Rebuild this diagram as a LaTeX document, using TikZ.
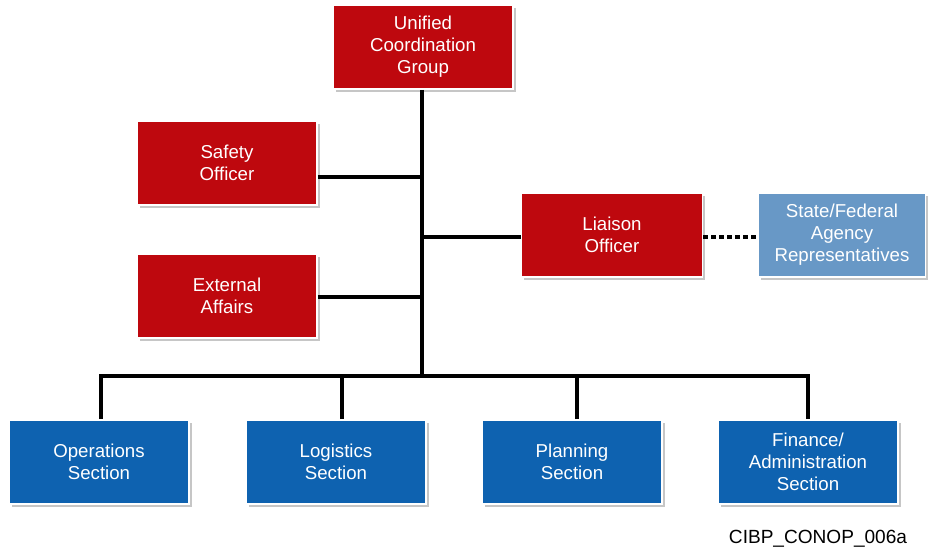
\documentclass[tikz,border=0pt]{standalone}
\usepackage{fontspec}
\setmainfont{Liberation Sans}
\usetikzlibrary{positioning,shadows}
\definecolor{cmdred}{RGB}{190,8,14}
\definecolor{secblue}{RGB}{14,98,176}
\definecolor{agblue}{RGB}{104,152,198}
\tikzset{
	box/.style = {draw=white, line width=1.2pt, text=white, align=center, minimum width=135pt, minimum height=63pt,
		font=\fontsize{14}{16.5}\selectfont, drop shadow={shadow xshift=2pt, shadow yshift=-2pt, opacity=0.45}},
	cmdbox/.style = {box, fill=cmdred},
	secbox/.style = {box, fill=secblue},
	link/.style = {line width=3pt}
}
\begin{document}
\begin{tikzpicture}[x=0.75pt, y=-0.75pt]
		\useasboundingbox (0,0) rectangle (935,552);
		% Command staff
		\node[cmdbox] (ucg) at (423,47) {Unified\\Coordination\\Group};
		\node[cmdbox] (safety) at (227,163) {Safety\\Officer};
		\node[cmdbox] (external) at (227,296) {External\\Affairs};
		\node[cmdbox, minimum width=136pt] (liaison) at (612,235) {Liaison\\Officer};
		\node[box, fill=agblue, minimum width=125pt] (agency) at (842,235) {State/Federal\\Agency\\Representatives};
		% Sections
		\node[secbox] (ops) at (99,462) {Operations\\Section};
		\node[secbox] (log) at (336,462) {Logistics\\Section};
		\node[secbox] (plan) at (572,462) {Planning\\Section};
		\node[secbox] (fin) at (808,462) {Finance/\\Administration\\Section};
		% Caption
		\node[font=\fontsize{14.3}{16}\selectfont] (caption) at (818,539) {CIBP\_CONOP\_006a};
		% Lines
		\coordinate (bus) at (422,376);
		\draw[link] (ucg.south -| bus) -- (bus);
		\draw[link] (safety.east |- 0,177) -- (422,177);
		\draw[link] (external.east |- 0,297) -- (422,297);
		\draw[link] (liaison.west |- 0,237) -- (422,237);
		\draw[link] ([xshift=1.5pt]ops.north) |- (fin.north |- bus) -- (fin.north);
		\draw[link] ([xshift=4.5pt]log.north) -- ([xshift=4.5pt]log.north |- bus);
		\draw[link] ([xshift=3.5pt]plan.north) -- ([xshift=3.5pt]plan.north |- bus);
		\draw[line width=3.5pt, dash pattern=on 3.5pt off 2.5pt] (liaison.east |- 0,237) -- (agency.west |- 0,237);
	\end{tikzpicture}
\end{document}
